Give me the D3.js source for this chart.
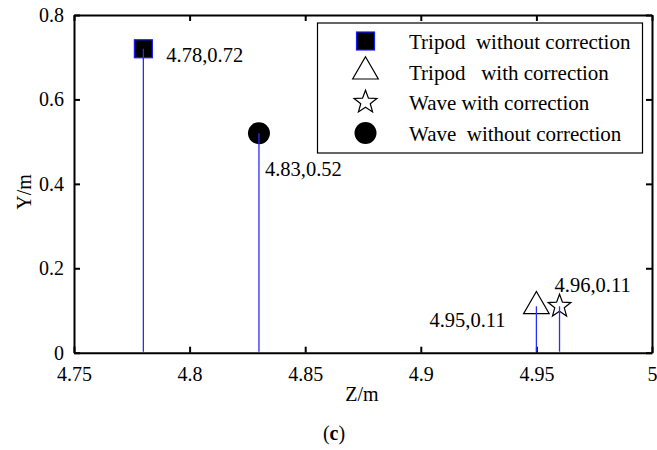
<!DOCTYPE html>
<html>
<head>
<meta charset="utf-8">
<script src="https://cdn.jsdelivr.net/npm/d3@7"></script>
<style>
  html, body { margin: 0; padding: 0; background: #fff; }
  svg { display: block; }
  text { font-family: "Liberation Serif", "Times New Roman", serif; fill: #000; }
</style>
</head>
<body>
<svg id="chart" width="657" height="450"></svg>
<script>
// Series shown in the legend, in legend order
const seriesNames = [
  "Tripod\u00a0\u00a0without correction",
  "Tripod\u00a0\u00a0\u00a0with correction",
  "Wave with correction",
  "Wave\u00a0\u00a0without correction"
];
const seriesSymbols = ["square", "triangle", "star", "circle"];
// Peak position of each series: Z (m) and Y (m)
const zValues = [4.78, 4.95, 4.96, 4.83];
const yValues = [0.72, 0.11, 0.11, 0.52];

// Axis ticks
const xTicks = [4.75, 4.8, 4.85, 4.9, 4.95, 5];
const xTickLabels = ["4.75", "4.8", "4.85", "4.9", "4.95", "5"];
const yTicks = [0, 0.2, 0.4, 0.6, 0.8];
const yTickLabels = ["0", "0.2", "0.4", "0.6", "0.8"];

const svg = d3.select("#chart");
const plotLeft = 74, plotRight = 652, plotTop = 15, plotBottom = 352.7;

const x = d3.scaleLinear().domain([4.75, 5]).range([plotLeft, plotRight]);
const y = d3.scaleLinear().domain([0, 0.8]).range([plotBottom, plotTop]);

const stemColor = "#2b2bff";
const fontSize = 20;

// ---- axes (box with inward ticks) ----
function styleAxis(g) {
  g.select(".domain").attr("stroke", "#000").attr("stroke-width", 2);
  g.selectAll(".tick line").attr("stroke", "#000").attr("stroke-width", 2);
  g.selectAll(".tick text")
    .attr("font-family", "Liberation Serif")
    .attr("font-size", fontSize)
    .attr("fill", "#000");
}

const xAxis = d3.axisBottom(x).tickValues(xTicks)
  .tickFormat((d, i) => xTickLabels[i]).tickSizeInner(-6).tickSizeOuter(0).tickPadding(14);
svg.append("g").attr("transform", `translate(0,${plotBottom})`).call(xAxis).call(styleAxis);

const xAxisTop = d3.axisTop(x).tickValues(xTicks).tickFormat("").tickSizeInner(-6).tickSizeOuter(0);
svg.append("g").attr("transform", `translate(0,${plotTop})`).call(xAxisTop).call(styleAxis);

const yAxis = d3.axisLeft(y).tickValues(yTicks)
  .tickFormat((d, i) => yTickLabels[i]).tickSizeInner(-6).tickSizeOuter(0).tickPadding(10);
svg.append("g").attr("transform", `translate(${plotLeft},0)`).call(yAxis).call(styleAxis);

const yAxisRight = d3.axisRight(y).tickValues(yTicks).tickFormat("").tickSizeInner(-6).tickSizeOuter(0);
svg.append("g").attr("transform", `translate(${plotRight},0)`).call(yAxisRight).call(styleAxis);

// ---- marker shapes ----
function starPath(rOuter, rInner) {
  const pts = [];
  for (let i = 0; i < 10; i++) {
    const r = i % 2 === 0 ? rOuter : rInner;
    const a = -Math.PI / 2 + i * Math.PI / 5;
    pts.push([r * Math.cos(a), r * Math.sin(a)]);
  }
  return "M" + pts.map(p => p.join(",")).join("L") + "Z";
}
function trianglePath(r) {
  const h = r * Math.sin(Math.PI / 3);
  return `M0,${-r}L${h},${r / 2}L${-h},${r / 2}Z`;
}
function drawMarker(g, kind, cx, cy) {
  const m = g.append("g").attr("transform", `translate(${cx},${cy})`);
  if (kind === "square") {
    m.append("rect").attr("x", -9).attr("y", -9).attr("width", 18).attr("height", 18)
      .attr("fill", "#000").attr("stroke", "#1a1aff").attr("stroke-width", 1.2);
  } else if (kind === "triangle") {
    m.append("path").attr("d", trianglePath(14.8))
      .attr("fill", "#fff").attr("stroke", "#000").attr("stroke-width", 1.2);
  } else if (kind === "star") {
    m.append("path").attr("d", starPath(12, 5))
      .attr("fill", "#fff").attr("stroke", "#000").attr("stroke-width", 1.2);
  } else {
    m.append("circle").attr("r", 11).attr("fill", "#000");
  }
}

// ---- stems and markers ----
const plot = svg.append("g");
zValues.forEach((z, i) => {
  drawMarker(plot, seriesSymbols[i], x(z), y(yValues[i]));
});
plot.selectAll("line.stem").data(zValues).join("line")
  .attr("class", "stem")
  .attr("x1", d => x(d)).attr("x2", d => x(d))
  .attr("y1", (d, i) => y(yValues[i])).attr("y2", y(0) - 1)
  .attr("stroke", stemColor).attr("stroke-width", 1.3);

// ---- value annotations ----
const fmt = v => String(v);
const labelOffsets = [[23, 13.5], [-107, 20.5], [-5, -14.5], [6, 43]];
zValues.forEach((z, i) => {
  svg.append("text")
    .attr("x", x(z) + labelOffsets[i][0])
    .attr("y", y(yValues[i]) + labelOffsets[i][1])
    .attr("font-size", 20.5)
    .text(`${fmt(z)},${fmt(yValues[i])}`);
});

// ---- legend ----
const legend = svg.append("g");
legend.append("rect").attr("x", 317.5).attr("y", 23).attr("width", 325).attr("height", 130)
  .attr("fill", "#fff").attr("stroke", "#000").attr("stroke-width", 1.2);
const rowY = [41, 71.6, 102.2, 133];
seriesNames.forEach((name, i) => {
  drawMarker(legend, seriesSymbols[i], 365.5, rowY[i]);
  legend.append("text").attr("x", 409).attr("y", rowY[i] + 8)
    .attr("font-size", 21).text(name);
});

// ---- axis titles ----
svg.append("text").attr("x", 362).attr("y", 401).attr("text-anchor", "middle")
  .attr("font-size", fontSize).text("Z/m");
svg.append("text").attr("transform", "translate(31,192) rotate(-90)")
  .attr("text-anchor", "middle").attr("font-size", fontSize).text("Y/m");
const cap = svg.append("text").attr("x", 334).attr("y", 440).attr("text-anchor", "middle")
  .attr("font-size", fontSize);
cap.append("tspan").text("(");
cap.append("tspan").attr("font-weight", "bold").text("c");
cap.append("tspan").text(")");
</script>
</body>
</html>
